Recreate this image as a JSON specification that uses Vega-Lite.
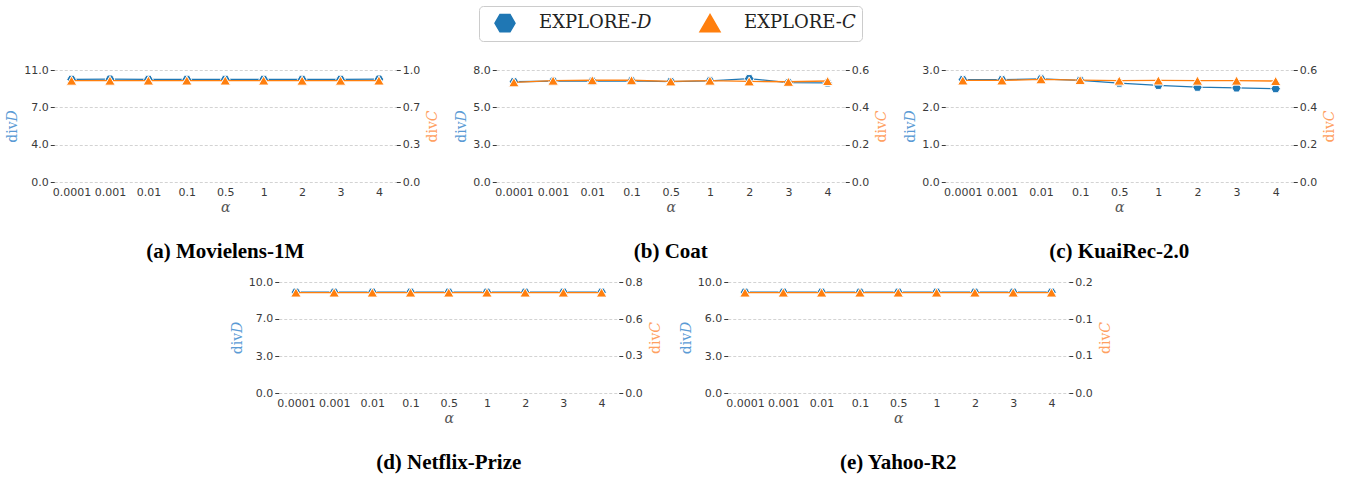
{
  "$schema": "https://vega.github.io/schema/vega-lite/v6.json",
  "background": "white",
  "padding": {"left": 5, "right": 5, "top": 5, "bottom": 5},
  "config": {
    "view": {"stroke": null},
    "font": "DejaVu Sans",
    "axis": {"labelFont": "DejaVu Sans", "labelFontSize": 11, "labelColor": "#3a3a3a", "domain": false, "gridColor": "#c8c8c8", "gridDash": [3, 2], "gridWidth": 0.8, "tickColor": "#3a3a3a", "tickSize": 4, "titleFont": "DejaVu Serif", "titleFontWeight": "normal", "titleFontSize": 14},
    "axisX": {"ticks": false, "labelAngle": 0, "labelPadding": 4, "titleFontStyle": "italic", "titleColor": "#555555", "titlePadding": 3},
    "axisRight": {"titleAngle": -90, "titleBaseline": "top", "titlePadding": 6},
    "title": {"orient": "bottom", "font": "Liberation Serif", "fontSize": 21, "fontWeight": "bold", "color": "#000000", "offset": 27, "anchor": "middle"},
    "legend": {"orient": "none", "legendX": 425, "legendY": -64, "direction": "horizontal", "title": null, "strokeColor": "#cccccc", "cornerRadius": 4, "padding": 6, "labelFont": "DejaVu Serif", "labelFontSize": 18, "labelColor": "#222222", "symbolSize": 400, "symbolOffset": 9, "columnPadding": 38, "labelOffset": 23}
  },
  "vconcat": [
    {
      "hconcat": [
        {
          "title": "(a) Movielens-1M",
          "width": 342, "height": 112,
          "data": {"values": [
            {"alpha": "0.0001", "D": 10.08, "C": 0.905},
            {"alpha": "0.001", "D": 10.1, "C": 0.905},
            {"alpha": "0.01", "D": 10.08, "C": 0.906},
            {"alpha": "0.1", "D": 10.08, "C": 0.906},
            {"alpha": "0.5", "D": 10.08, "C": 0.906},
            {"alpha": "1", "D": 10.08, "C": 0.906},
            {"alpha": "2", "D": 10.08, "C": 0.905},
            {"alpha": "3", "D": 10.08, "C": 0.905},
            {"alpha": "4", "D": 10.1, "C": 0.906}
          ]},
          "encoding": {"x": {"field": "alpha", "type": "ordinal", "sort": null, "scale": {"type": "point", "padding": 0.45}, "title": "α"}},
          "layer": [
            {
              "encoding": {"y": {"field": "D", "type": "quantitative", "scale": {"domain": [0, 11], "nice": false}, "axis": {"orient": "left", "values": [0, 3.6667, 7.3333, 11], "labelExpr": "format(round(datum.value), '.1f')", "title": "div𝐷", "titleColor": "#5b9bd5"}}},
              "layer": [
                {"mark": {"type": "line", "strokeWidth": 1.3}, "encoding": {"color": {"datum": "EXPLORE-D", "scale": {"domain": ["EXPLORE-D", "EXPLORE-C"], "range": ["#1f77b4", "#ff7f0e"]}, "legend": {"labelExpr": "datum.label == 'EXPLORE-D' ? 'EXPLORE-𝐷' : 'EXPLORE-𝐶'"}}}},
                {"mark": {"type": "point", "filled": true, "opacity": 1, "size": 90, "stroke": "white", "strokeWidth": 1}, "encoding": {
                  "color": {"datum": "EXPLORE-D"},
                  "shape": {"datum": "EXPLORE-D", "scale": {"domain": ["EXPLORE-D", "EXPLORE-C"], "range": ["M-1,0L-0.5,-0.866L0.5,-0.866L1,0L0.5,0.866L-0.5,0.866Z", "triangle-up"]}, "legend": null}}}
              ]
            },
            {
              "encoding": {"y": {"field": "C", "type": "quantitative", "scale": {"domain": [0, 1], "nice": false}, "axis": {"orient": "right", "grid": false, "values": [0, 0.3333, 0.6667, 1], "format": ".1f", "title": "div𝐶", "titleColor": "#ffa060"}}},
              "layer": [
                {"mark": {"type": "line", "strokeWidth": 1.3}, "encoding": {"color": {"datum": "EXPLORE-C"}}},
                {"mark": {"type": "point", "filled": true, "opacity": 1, "size": 110, "stroke": "white", "strokeWidth": 1}, "encoding": {"color": {"datum": "EXPLORE-C"}, "shape": {"datum": "EXPLORE-C"}}}
              ]
            }
          ],
          "resolve": {"scale": {"y": "independent"}}
        },
        {
          "title": "(b) Coat",
          "width": 349, "height": 112,
          "data": {"values": [
            {"alpha": "0.0001", "D": 7.16, "C": 0.534},
            {"alpha": "0.001", "D": 7.2, "C": 0.543},
            {"alpha": "0.01", "D": 7.2, "C": 0.545},
            {"alpha": "0.1", "D": 7.22, "C": 0.545},
            {"alpha": "0.5", "D": 7.17, "C": 0.539},
            {"alpha": "1", "D": 7.22, "C": 0.543},
            {"alpha": "2", "D": 7.38, "C": 0.539},
            {"alpha": "3", "D": 7.1, "C": 0.537},
            {"alpha": "4", "D": 7.08, "C": 0.541}
          ]},
          "encoding": {"x": {"field": "alpha", "type": "ordinal", "sort": null, "scale": {"type": "point", "padding": 0.45}, "title": "α"}},
          "layer": [
            {
              "encoding": {"y": {"field": "D", "type": "quantitative", "scale": {"domain": [0, 8], "nice": false}, "axis": {"orient": "left", "values": [0, 2.6667, 5.3333, 8], "labelExpr": "format(round(datum.value), '.1f')", "title": "div𝐷", "titleColor": "#5b9bd5"}}},
              "layer": [
                {"mark": {"type": "line", "strokeWidth": 1.3}, "encoding": {"color": {"datum": "EXPLORE-D"}}},
                {"mark": {"type": "point", "filled": true, "opacity": 1, "size": 90, "stroke": "white", "strokeWidth": 1}, "encoding": {"color": {"datum": "EXPLORE-D"}, "shape": {"datum": "EXPLORE-D"}}}
              ]
            },
            {
              "encoding": {"y": {"field": "C", "type": "quantitative", "scale": {"domain": [0, 0.6], "nice": false}, "axis": {"orient": "right", "grid": false, "values": [0, 0.2, 0.4, 0.6], "format": ".1f", "title": "div𝐶", "titleColor": "#ffa060"}}},
              "layer": [
                {"mark": {"type": "line", "strokeWidth": 1.3}, "encoding": {"color": {"datum": "EXPLORE-C"}}},
                {"mark": {"type": "point", "filled": true, "opacity": 1, "size": 110, "stroke": "white", "strokeWidth": 1}, "encoding": {"color": {"datum": "EXPLORE-C"}, "shape": {"datum": "EXPLORE-C"}}}
              ]
            }
          ],
          "resolve": {"scale": {"y": "independent"}}
        },
        {
          "title": "(c) KuaiRec-2.0",
          "width": 348, "height": 112,
          "data": {"values": [
            {"alpha": "0.0001", "D": 2.74, "C": 0.544},
            {"alpha": "0.001", "D": 2.74, "C": 0.544},
            {"alpha": "0.01", "D": 2.76, "C": 0.55},
            {"alpha": "0.1", "D": 2.72, "C": 0.546},
            {"alpha": "0.5", "D": 2.65, "C": 0.543},
            {"alpha": "1", "D": 2.59, "C": 0.544},
            {"alpha": "2", "D": 2.54, "C": 0.543},
            {"alpha": "3", "D": 2.52, "C": 0.543},
            {"alpha": "4", "D": 2.5, "C": 0.541}
          ]},
          "encoding": {"x": {"field": "alpha", "type": "ordinal", "sort": null, "scale": {"type": "point", "padding": 0.45}, "title": "α"}},
          "layer": [
            {
              "encoding": {"y": {"field": "D", "type": "quantitative", "scale": {"domain": [0, 3], "nice": false}, "axis": {"orient": "left", "values": [0, 1, 2, 3], "labelExpr": "format(round(datum.value), '.1f')", "title": "div𝐷", "titleColor": "#5b9bd5"}}},
              "layer": [
                {"mark": {"type": "line", "strokeWidth": 1.3}, "encoding": {"color": {"datum": "EXPLORE-D"}}},
                {"mark": {"type": "point", "filled": true, "opacity": 1, "size": 90, "stroke": "white", "strokeWidth": 1}, "encoding": {"color": {"datum": "EXPLORE-D"}, "shape": {"datum": "EXPLORE-D"}}}
              ]
            },
            {
              "encoding": {"y": {"field": "C", "type": "quantitative", "scale": {"domain": [0, 0.6], "nice": false}, "axis": {"orient": "right", "grid": false, "values": [0, 0.2, 0.4, 0.6], "format": ".1f", "title": "div𝐶", "titleColor": "#ffa060"}}},
              "layer": [
                {"mark": {"type": "line", "strokeWidth": 1.3}, "encoding": {"color": {"datum": "EXPLORE-C"}}},
                {"mark": {"type": "point", "filled": true, "opacity": 1, "size": 110, "stroke": "white", "strokeWidth": 1}, "encoding": {"color": {"datum": "EXPLORE-C"}, "shape": {"datum": "EXPLORE-C"}}}
              ]
            }
          ],
          "resolve": {"scale": {"y": "independent"}}
        }
      ],
      "spacing": 100,
      "bounds": "flush"
    },
    {
      "hconcat": [
        {
          "title": "(d) Netflix-Prize",
          "width": 340, "height": 111,
          "data": {"values": [
            {"alpha": "0.0001", "D": 9.08, "C": 0.724},
            {"alpha": "0.001", "D": 9.08, "C": 0.724},
            {"alpha": "0.01", "D": 9.08, "C": 0.724},
            {"alpha": "0.1", "D": 9.08, "C": 0.724},
            {"alpha": "0.5", "D": 9.08, "C": 0.724},
            {"alpha": "1", "D": 9.08, "C": 0.724},
            {"alpha": "2", "D": 9.08, "C": 0.724},
            {"alpha": "3", "D": 9.08, "C": 0.724},
            {"alpha": "4", "D": 9.08, "C": 0.724}
          ]},
          "encoding": {"x": {"field": "alpha", "type": "ordinal", "sort": null, "scale": {"type": "point", "padding": 0.45}, "title": "α"}},
          "layer": [
            {
              "encoding": {"y": {"field": "D", "type": "quantitative", "scale": {"domain": [0, 10], "nice": false}, "axis": {"orient": "left", "values": [0, 3.3333, 6.6667, 10], "labelExpr": "format(round(datum.value), '.1f')", "title": "div𝐷", "titleColor": "#5b9bd5"}}},
              "layer": [
                {"mark": {"type": "line", "strokeWidth": 1.3}, "encoding": {"color": {"datum": "EXPLORE-D"}}},
                {"mark": {"type": "point", "filled": true, "opacity": 1, "size": 90, "stroke": "white", "strokeWidth": 1}, "encoding": {"color": {"datum": "EXPLORE-D"}, "shape": {"datum": "EXPLORE-D"}}}
              ]
            },
            {
              "encoding": {"y": {"field": "C", "type": "quantitative", "scale": {"domain": [0, 0.8], "nice": false}, "axis": {"orient": "right", "grid": false, "values": [0, 0.2667, 0.5333, 0.8], "labelExpr": "datum.value > 0.5 && datum.value < 0.6 ? '0.6' : format(datum.value, '.1f')", "title": "div𝐶", "titleColor": "#ffa060"}}},
              "layer": [
                {"mark": {"type": "line", "strokeWidth": 1.3}, "encoding": {"color": {"datum": "EXPLORE-C"}}},
                {"mark": {"type": "point", "filled": true, "opacity": 1, "size": 110, "stroke": "white", "strokeWidth": 1}, "encoding": {"color": {"datum": "EXPLORE-C"}, "shape": {"datum": "EXPLORE-C"}}}
              ]
            }
          ],
          "resolve": {"scale": {"y": "independent"}}
        },
        {
          "title": "(e) Yahoo-R2",
          "width": 341, "height": 111,
          "data": {"values": [
            {"alpha": "0.0001", "D": 9.08, "C": 0.181},
            {"alpha": "0.001", "D": 9.08, "C": 0.181},
            {"alpha": "0.01", "D": 9.08, "C": 0.181},
            {"alpha": "0.1", "D": 9.08, "C": 0.181},
            {"alpha": "0.5", "D": 9.08, "C": 0.181},
            {"alpha": "1", "D": 9.08, "C": 0.181},
            {"alpha": "2", "D": 9.08, "C": 0.181},
            {"alpha": "3", "D": 9.08, "C": 0.181},
            {"alpha": "4", "D": 9.08, "C": 0.181}
          ]},
          "encoding": {"x": {"field": "alpha", "type": "ordinal", "sort": null, "scale": {"type": "point", "padding": 0.45}, "title": "α"}},
          "layer": [
            {
              "encoding": {"y": {"field": "D", "type": "quantitative", "scale": {"domain": [0, 10], "nice": false}, "axis": {"orient": "left", "values": [0, 3.3333, 6.6667, 10], "labelExpr": "datum.value > 6 && datum.value < 7 ? '6.0' : format(round(datum.value), '.1f')", "title": "div𝐷", "titleColor": "#5b9bd5"}}},
              "layer": [
                {"mark": {"type": "line", "strokeWidth": 1.3}, "encoding": {"color": {"datum": "EXPLORE-D"}}},
                {"mark": {"type": "point", "filled": true, "opacity": 1, "size": 90, "stroke": "white", "strokeWidth": 1}, "encoding": {"color": {"datum": "EXPLORE-D"}, "shape": {"datum": "EXPLORE-D"}}}
              ]
            },
            {
              "encoding": {"y": {"field": "C", "type": "quantitative", "scale": {"domain": [0, 0.2], "nice": false}, "axis": {"orient": "right", "grid": false, "values": [0, 0.0667, 0.1333, 0.2], "format": ".1f", "title": "div𝐶", "titleColor": "#ffa060"}}},
              "layer": [
                {"mark": {"type": "line", "strokeWidth": 1.3}, "encoding": {"color": {"datum": "EXPLORE-C"}}},
                {"mark": {"type": "point", "filled": true, "opacity": 1, "size": 110, "stroke": "white", "strokeWidth": 1}, "encoding": {"color": {"datum": "EXPLORE-C"}, "shape": {"datum": "EXPLORE-C"}}}
              ]
            }
          ],
          "resolve": {"scale": {"y": "independent"}}
        }
      ],
      "spacing": 109,
      "bounds": "flush"
    }
  ],
  "spacing": 14,
  "center": true
}
